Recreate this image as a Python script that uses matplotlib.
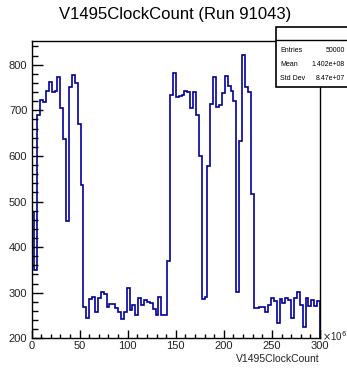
import matplotlib.pyplot as plt
import numpy as np
from matplotlib.patches import Rectangle
from matplotlib.ticker import MultipleLocator

plt.rcParams["font.family"] = ["Liberation Sans", "DejaVu Sans"]

# bin contents, 100 bins of 3e6 between 0 and 300e6
counts = [
    478, 350, 690, 723, 718, 743, 761, 740, 743, 774,
    706, 637, 457, 751, 778, 760, 670, 536, 268, 244,
    286, 291, 258, 288, 302, 297, 269, 275, 276, 267,
    257, 243, 257, 310, 263, 272, 250, 289, 272, 283,
    279, 278, 265, 252, 290, 252, 252, 370, 733, 782,
    730, 731, 733, 743, 741, 704, 740, 690, 600, 286,
    290, 577, 713, 774, 708, 712, 738, 776, 753, 742,
    721, 302, 632, 822, 751, 741, 517, 266, 266, 268,
    269, 258, 272, 289, 282, 234, 286, 277, 288, 284,
    244, 288, 302, 273, 225, 288, 270, 284, 270, 282,
]
edges = np.linspace(0, 300, len(counts) + 1)

stats_names = ["Entries", "Mean", "Std Dev"]
stats_values = ["50000", "1.402e+08", "8.47e+07"]

fig = plt.figure(figsize=(3.47, 3.69), dpi=100)
ax = fig.add_axes([0.0908, 0.0832, 0.8314, 0.8057])

ax.stairs(counts, edges, baseline=0, color="#000099", lw=1.2)
ax.set_xlim(0, 300)
ax.set_ylim(200, 852)

ax.xaxis.set_major_locator(MultipleLocator(50))
ax.xaxis.set_minor_locator(MultipleLocator(10))
ax.yaxis.set_major_locator(MultipleLocator(100))
ax.yaxis.set_minor_locator(MultipleLocator(20))
ax.tick_params(which="both", direction="in", top=False, right=False,
               labelsize=8, labelcolor="#222222", width=1)
ax.tick_params(axis="y", which="major", length=8, pad=3)
ax.tick_params(axis="y", which="minor", length=4)
ax.tick_params(axis="x", which="major", length=6, pad=2)
ax.tick_params(axis="x", which="minor", length=3)
for s in ax.spines.values():
    s.set_linewidth(1)

fig.text(0.505, 0.962, "V1495ClockCount (Run 91043)", ha="center", va="center",
         fontsize=12)
fig.text(0.922, 0.028, "V1495ClockCount", ha="right", va="center", fontsize=7.5,
         color="#222222")
fig.text(0.928, 0.088, r"$\times$10$^{6}$", ha="left", va="center", fontsize=7,
         color="#222222")

# stats box
bx0, bx1 = 276 / 347, 1.02
by0, by1 = 1 - 87 / 369, 1 - 27 / 369
fig.patches.append(Rectangle((bx0, by0), bx1 - bx0, by1 - by0, transform=fig.transFigure,
                             facecolor="white", edgecolor="black", lw=1.2))
sep = 1 - 40 / 369
fig.add_artist(plt.Line2D([bx0, bx1], [sep, sep], transform=fig.transFigure,
                          color="black", lw=1))
rows_y = [50, 64, 78]
for name, val, yy in zip(stats_names, stats_values, rows_y):
    fig.text(280 / 347, 1 - yy / 369, name, ha="left", va="center", fontsize=5)
    fig.text(345 / 347, 1 - yy / 369, val, ha="right", va="center", fontsize=5)

fig.savefig("out.png", dpi=100)
